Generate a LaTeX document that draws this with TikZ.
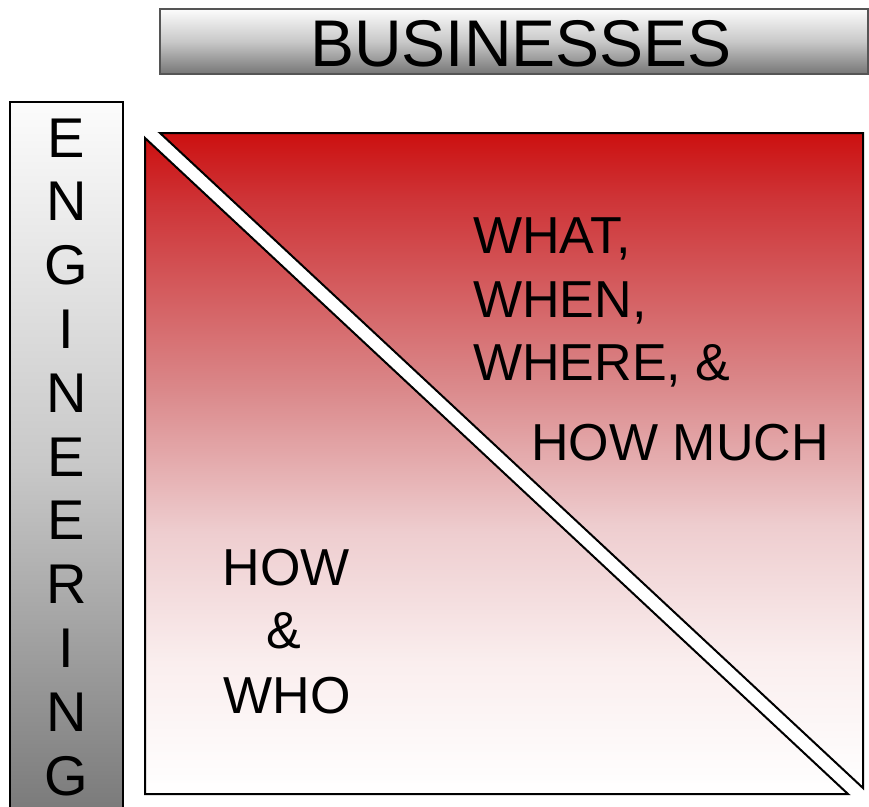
\documentclass[tikz,border=0pt]{standalone}
\usepackage{fontspec}
\setmainfont{Liberation Sans}
\definecolor{rtop}{RGB}{204,16,16}
\definecolor{r1}{RGB}{206,52,55}
\definecolor{r2}{RGB}{218,135,137}
\definecolor{r3}{RGB}{238,205,207}
\definecolor{r4}{RGB}{250,238,238}
\definecolor{gtop}{RGB}{252,252,252}
\definecolor{gmid}{RGB}{200,200,200}
\definecolor{gbot}{RGB}{118,118,118}
\definecolor{barborder}{RGB}{85,85,85}
\pgfdeclareverticalshading{redfade}{100bp}{color(0bp)=(white); color(25bp)=(white); color(35bp)=(r4); color(45bp)=(r3); color(56bp)=(r2); color(70bp)=(r1); color(75bp)=(rtop); color(100bp)=(rtop)}
\pgfdeclareverticalshading{grayfade}{100bp}{color(0bp)=(gbot); color(25bp)=(gbot); color(50bp)=(gmid); color(75bp)=(gtop); color(100bp)=(gtop)}
\tikzset{
  tri/.style={shading=redfade, draw=black, line width=2pt, line join=miter},
  bar/.style={shading=grayfade},
  bigtxt/.style={font=\fontsize{66}{70}\selectfont, inner sep=0pt},
  lettxt/.style={font=\fontsize{56}{60}\selectfont, inner sep=0pt, anchor=base},
  quadtxt/.style={font=\fontsize{52}{64}\selectfont, inner sep=0pt}
}
\begin{document}
\begin{tikzpicture}[x=1pt,y=-1pt]
\useasboundingbox (0,0) rectangle (869,806);
\clip (0,0) rectangle (869,806);
% top bar
\shade[bar, draw=barborder, line width=1.2pt] (160,9) rectangle (868,74);
\node[bigtxt, anchor=base] (bus) at (521,66) {BUSINESSES};
% left bar
\shade[bar, shading=grayfade, draw=black, line width=1.5pt] (10,102) rectangle (123,830);
\foreach \L [count=\i from 0] in {E,N,G,I,N,E,E,R,I,N,G}{
  \node[lettxt] (eng\i) at (66.5,157+63.8*\i) {\L};
}
% triangles
\shade[tri] (160,133) -- (863,133) -- (863,788) -- cycle;
\shade[tri] (145,138) -- (145,794) -- (848,794) -- cycle;
% texts
\node[quadtxt, anchor=base west] (what) at (473,253) {WHAT,};
\node[quadtxt, anchor=base west] (when) at (473,317) {WHEN,};
\node[quadtxt, anchor=base west] (where) at (473,380) {WHERE, \&};
\node[quadtxt, anchor=base west] (howmuch) at (531,460) {HOW MUCH};
\node[quadtxt, anchor=base] (how) at (286,585) {HOW};
\node[quadtxt, anchor=base] (amp) at (284,648) {\&};
\node[quadtxt, anchor=base] (who) at (287,713) {WHO};
\end{tikzpicture}
\end{document}
